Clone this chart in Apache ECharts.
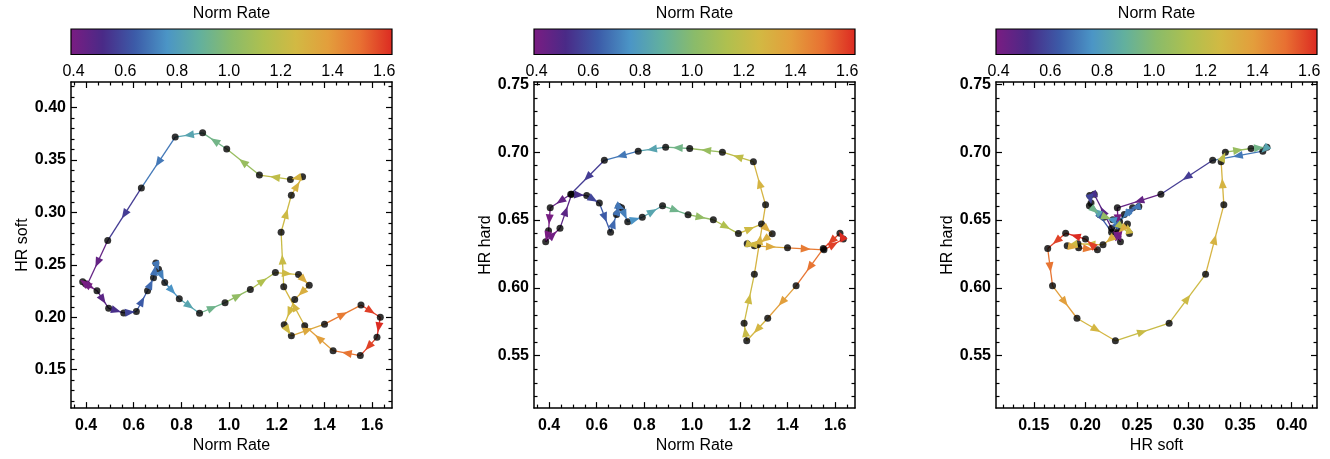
<!DOCTYPE html>
<html><head><meta charset="utf-8">
<script src="https://cdn.jsdelivr.net/npm/echarts@6/dist/echarts.min.js"></script>
<style>html,body{margin:0;padding:0;background:#fff}#c{width:1330px;height:459px}</style>
</head><body><div id="c"></div>
<script>
// ---- data (time order, closed loop) ----
const normRate = [0.405,0.398,0.386,0.446,0.495,0.558,0.611,0.658,0.683,0.693,0.704,0.730,0.791,0.876,0.983,1.089,1.194,1.291,1.336,1.275,1.231,1.261,1.400,1.553,1.634,1.620,1.550,1.436,1.317,1.229,1.218,1.261,1.308,1.257,1.127,0.990,0.889,0.774,0.632,0.491];
const hrSoft = [0.231,0.232,0.234,0.2254,0.2086,0.2042,0.2055,0.2254,0.2377,0.2518,0.2458,0.2332,0.2178,0.2039,0.214,0.2266,0.2427,0.2408,0.2307,0.2171,0.1928,0.1824,0.1935,0.2117,0.2001,0.1809,0.1635,0.1682,0.1919,0.2291,0.2812,0.3165,0.3342,0.3316,0.3357,0.3606,0.376,0.372,0.3234,0.2732];
const hrHard = [0.659,0.642,0.634,0.644,0.669,0.668,0.6625,0.641,0.654,0.660,0.659,0.6488,0.652,0.6605,0.6539,0.6502,0.640,0.647,0.6398,0.6317,0.6325,0.631,0.6295,0.628,0.636,0.6403,0.629,0.6015,0.5776,0.561,0.574,0.610,0.6612,0.693,0.700,0.7027,0.7037,0.7007,0.694,0.669];

// ---- tick labels ----
const rateTicks = [0.4,0.6,0.8,1.0,1.2,1.4,1.6];
const softTicks = [0.15,0.20,0.25,0.30,0.35,0.40];
const hardTicks = [0.55,0.60,0.65,0.70,0.75];
const colorTicks = [0.4,0.6,0.8,1.0,1.2,1.4,1.6];

// ---- scales ----
const rateRange = [0.337, 1.683];
const softRange = [0.1134, 0.4245];
const hardRange = [0.5114, 0.7517];
const colorRange = [0.39, 1.63];
const CMAP = ['#7b1c82','#4a2a87','#3c5ba8','#4b95c6','#62b09e','#8abb6a','#afc04f','#d2b943','#e39e3c','#e87032','#dc2a22'];

const FONT = '"Liberation Sans", Arial, Helvetica, sans-serif';
const LEFTS = [71, 534, 996], GW = 321, GTOP = 82, GH = 328.5;
const CB_TOP = 29, CB_H = 25.5;

function minorsOf(range, step, majors) {
  const out = [];
  const k0 = Math.ceil(range[0] / step - 1e-9), k1 = Math.floor(range[1] / step + 1e-9);
  for (let k = k0; k <= k1; k++) {
    const v = +(k * step).toFixed(6);
    if (!majors.some(m => Math.abs(m - v) < 1e-6)) out.push(v);
  }
  return out;
}

const grids = [], xAxes = [], yAxes = [], series = [], segSeries = [];
const lineStyle = {color: '#000', width: 1.5};
const tickStyle = {color: '#000', width: 1.2};

function addAxes(list, kind, gridIndex, range, majors, minorStep, digits, name, nameGap) {
  const pos = kind === 'x' ? ['bottom', 'top'] : ['left', 'right'];
  const minors = minorsOf(range, minorStep, majors);
  const base = {type: 'value', gridIndex, min: range[0], max: range[1], splitLine: {show: false}};
  const first = list.length;
  list.push(Object.assign({}, base, {
    position: pos[0],
    axisLine: {show: true, onZero: false, lineStyle},
    axisTick: {show: true, inside: true, length: 6, customValues: majors, lineStyle: tickStyle},
    axisLabel: {show: true, customValues: majors, formatter: v => (+v).toFixed(digits), margin: kind === 'x' ? 9 : 5,
      fontSize: 16, fontWeight: 'bold', color: '#000', fontFamily: FONT},
    name, nameLocation: 'middle', nameGap, nameRotate: kind === 'y' ? 90 : 0,
    nameTextStyle: {fontSize: 16, color: '#000', fontFamily: FONT}
  }));
  list.push(Object.assign({}, base, {position: pos[0], axisLine: {show: false},
    axisTick: {show: true, inside: true, length: 3.5, customValues: minors, lineStyle: tickStyle}, axisLabel: {show: false}}));
  list.push(Object.assign({}, base, {position: pos[1], axisLine: {show: true, onZero: false, lineStyle},
    axisTick: {show: true, inside: true, length: 6, customValues: majors, lineStyle: tickStyle}, axisLabel: {show: false}}));
  list.push(Object.assign({}, base, {position: pos[1], axisLine: {show: false},
    axisTick: {show: true, inside: true, length: 3.5, customValues: minors, lineStyle: tickStyle}, axisLabel: {show: false}}));
  return first;
}

const panels = [
  {xs: normRate, ys: hrSoft, xr: rateRange, yr: softRange, xt: rateTicks, yt: softTicks, xm: 0.05, ym: 0.01, xd: 1, yd: 2, xn: 'Norm Rate', yn: 'HR soft'},
  {xs: normRate, ys: hrHard, xr: rateRange, yr: hardRange, xt: rateTicks, yt: hardTicks, xm: 0.05, ym: 0.01, xd: 1, yd: 2, xn: 'Norm Rate', yn: 'HR hard'},
  {xs: hrSoft, ys: hrHard, xr: softRange, yr: hardRange, xt: softTicks, yt: hardTicks, xm: 0.01, ym: 0.01, xd: 2, yd: 2, xn: 'HR soft', yn: 'HR hard'}
];

function renderLine(params, api) {
  const p1 = api.coord([api.value(0), api.value(1)]);
  const p2 = api.coord([api.value(2), api.value(3)]);
  return {type: 'line', shape: {x1: p1[0], y1: p1[1], x2: p2[0], y2: p2[1]},
    style: {stroke: api.visual('color'), lineWidth: 1.3}};
}
function renderArrow(params, api) {
  const p1 = api.coord([api.value(0), api.value(1)]);
  const p2 = api.coord([api.value(2), api.value(3)]);
  const dx = p2[0] - p1[0], dy = p2[1] - p1[1];
  const len = Math.hypot(dx, dy) || 1, ux = dx / len, uy = dy / len;
  const mx = (p1[0] + p2[0]) / 2, my = (p1[1] + p2[1]) / 2;
  const L = 10, hw = 4;
  const tip = [mx + ux * L / 2, my + uy * L / 2];
  const bx = mx - ux * L / 2, by = my - uy * L / 2;
  return {type: 'polygon', shape: {points: [tip, [bx - uy * hw, by + ux * hw], [bx + uy * hw, by - ux * hw]]},
    style: {fill: api.visual('color')}};
}

panels.forEach((p, i) => {
  const g = grids.length;
  grids.push({left: LEFTS[i], top: GTOP, width: GW, height: GH, containLabel: false});
  const xi = addAxes(xAxes, 'x', g, p.xr, p.xt, p.xm, p.xd, p.xn, 28);
  const yi = addAxes(yAxes, 'y', g, p.yr, p.yt, p.ym, p.yd, p.yn, 39);
  const n = p.xs.length;
  const segs = [];
  for (let k = 0; k < n; k++) {
    const j = (k + 1) % n;
    segs.push([p.xs[k], p.ys[k], p.xs[j], p.ys[j], (normRate[k] + normRate[j]) / 2]);
  }
  const pts = p.xs.map((v, k) => [v, p.ys[k]]);
  segSeries.push(series.length);
  series.push({type: 'custom', xAxisIndex: xi, yAxisIndex: yi, data: segs, renderItem: renderLine, z: 2,
    encode: {x: [0, 2], y: [1, 3]}, silent: true});
  series.push({type: 'scatter', xAxisIndex: xi, yAxisIndex: yi, data: pts, symbol: 'circle', symbolSize: 7,
    itemStyle: {color: '#000'}, z: 3, silent: true});
  segSeries.push(series.length);
  series.push({type: 'custom', xAxisIndex: xi, yAxisIndex: yi, data: segs, renderItem: renderArrow, z: 4,
    encode: {x: [0, 2], y: [1, 3]}, silent: true});

  // colorbar
  const cg = grids.length;
  grids.push({left: LEFTS[i], top: CB_TOP, width: GW, height: CB_H, containLabel: false});
  const cbase = {type: 'value', gridIndex: cg, min: colorRange[0], max: colorRange[1], splitLine: {show: false}};
  const cx = xAxes.length;
  xAxes.push(Object.assign({}, cbase, {position: 'bottom', axisLine: {show: false},
    axisTick: {show: true, inside: true, length: 6, customValues: colorTicks, lineStyle: tickStyle},
    axisLabel: {show: true, customValues: colorTicks, formatter: v => (+v).toFixed(1), margin: 9,
      fontSize: 16, color: '#000', fontFamily: FONT}}));
  xAxes.push(Object.assign({}, cbase, {position: 'bottom', axisLine: {show: false},
    axisTick: {show: true, inside: true, length: 3.5, customValues: minorsOf(colorRange, 0.1, colorTicks), lineStyle: tickStyle},
    axisLabel: {show: false}}));
  xAxes.push(Object.assign({}, cbase, {position: 'top', axisLine: {show: false}, axisTick: {show: false}, axisLabel: {show: false},
    name: 'Norm Rate', nameLocation: 'middle', nameGap: 7, nameTextStyle: {fontSize: 16, color: '#000', fontFamily: FONT}}));
  const cy = yAxes.length;
  yAxes.push({type: 'value', gridIndex: cg, min: 0, max: 1, show: false});
  series.push({type: 'custom', xAxisIndex: cx, yAxisIndex: cy, data: [[colorRange[0], colorRange[1]]], z: 1, silent: true,
    renderItem: (params, api) => {
      const a = api.coord([api.value(0), 1]);
      const b = api.coord([api.value(1), 0]);
      return {type: 'rect', shape: {x: a[0], y: a[1], width: b[0] - a[0], height: b[1] - a[1]},
        style: {fill: new echarts.graphic.LinearGradient(0, 0, 1, 0,
          CMAP.map((c, k) => ({offset: k / (CMAP.length - 1), color: c}))), stroke: '#000', lineWidth: 1.2}};
    }});
});

const chart = echarts.init(document.getElementById('c'), null, {renderer: 'canvas'});
chart.setOption({
  animation: false,
  backgroundColor: '#fff',
  textStyle: {fontFamily: FONT},
  grid: grids, xAxis: xAxes, yAxis: yAxes,
  visualMap: [{type: 'continuous', show: false, min: colorRange[0], max: colorRange[1], dimension: 4,
    seriesIndex: segSeries, inRange: {color: CMAP}}],
  series
});
</script></body></html>
